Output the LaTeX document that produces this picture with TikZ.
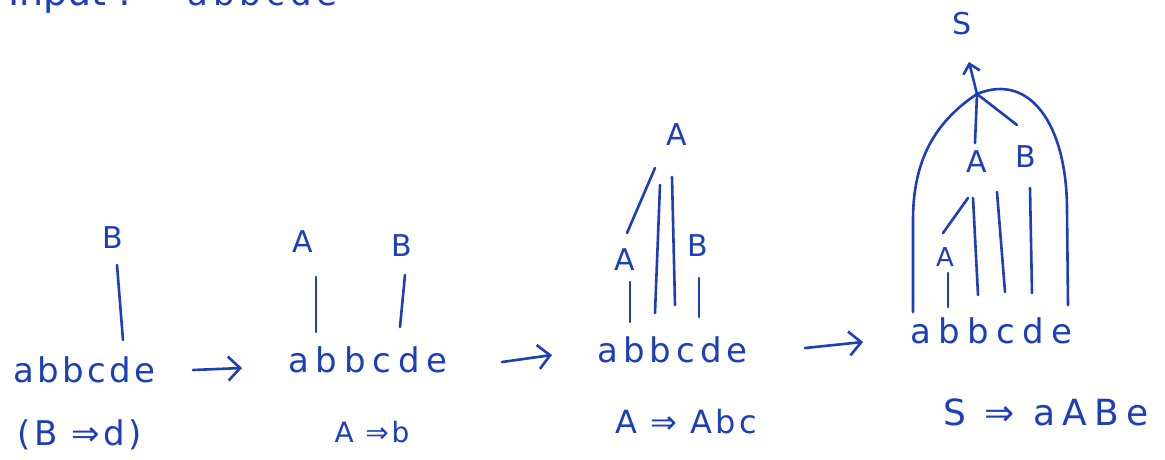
\documentclass[tikz,border=0pt]{standalone}
\usepackage{fontspec}
\setmainfont{DejaVu Sans}
\usetikzlibrary{arrows.meta}
\definecolor{ink}{RGB}{28,62,186}
\begin{document}
\begin{tikzpicture}[x=1pt,y=-1pt,
  every node/.style={text=ink, inner sep=0pt},
  lbl/.style={font=\fontsize{30}{34}\selectfont},
  smalllbl/.style={font=\fontsize{26}{30}\selectfont},
  word/.style={anchor=base west,font={\fontsize{34}{40}\selectfont\addfontfeature{LetterSpace=#1}}},
  rulefont/.style={font={\fontsize{#1}{40}\selectfont\addfontfeature{LetterSpace=10}}},
  edge/.style={draw=ink,line width=2.6pt,line cap=round},
  stagearrow/.style={draw=ink,line width=2.6pt,line cap=round,-{Straight Barb[length=12pt,width=24pt]}},
  rootarrow/.style={draw=ink,line width=2.6pt,line cap=round,-{Straight Barb[length=9pt,width=17pt]}}]
\useasboundingbox (0,0) rectangle (1165,460);
\clip (0,0) rectangle (1165,460);

% clipped heading at the top
\node[anchor=base west,font=\fontsize{38}{40}\selectfont] (inp) at (8,6) {Input :};
\node[word=15] (inw) at (187,6) {abbcde};

% ---------- stage 1 ----------
\node[word=10] (w1) at (13,382) {abbcde};
\node[lbl] (B1) at (113,238) {B};
\node[rulefont=34] (r1) at (80,435) {(B ⇒d)};
\coordinate (b1t) at (117,265); \coordinate (b1b) at (123,340);
\draw[edge] (b1t) -- (b1b);

% ---------- stage 2 ----------
\node[word=20] (w2) at (288,372) {abbcde};
\node[lbl] (A2) at (303,242) {A};
\node[lbl] (B2) at (402,246) {B};
\node[rulefont=28] (r2) at (372,432) {A ⇒b};
\coordinate (a2t) at (316,277); \coordinate (a2b) at (316,332);
\coordinate (b2t) at (405,275); \coordinate (b2b) at (400,327);
\draw[edge] (a2t) -- (a2b);
\draw[edge] (b2t) -- (b2b);

% ---------- stage 3 ----------
\node[word=15] (w3) at (597,362) {abbcde};
\node[lbl] (A3top) at (677,135) {A};
\node[lbl] (A3) at (625,260) {A};
\node[lbl] (B3) at (698,246) {B};
\node[rulefont=32] (r3) at (686,422) {A ⇒ Abc};
\coordinate (s3t) at (655,168); \coordinate (s3b) at (627,233);
\coordinate (p3t) at (660,185); \coordinate (p3b) at (655,313);
\coordinate (c3t) at (672,177); \coordinate (c3b) at (675,305);
\coordinate (a3t) at (630,282); \coordinate (a3b) at (630,322);
\coordinate (d3t) at (699,278); \coordinate (d3b) at (699,317);
\draw[edge] (s3t) -- (s3b);
\draw[edge] (p3t) -- (p3b);
\draw[edge] (c3t) -- (c3b);
\draw[edge] (a3t) -- (a3b);
\draw[edge] (d3t) -- (d3b);

% ---------- stage 4 ----------
\node[word=22] (w4) at (910,343) {abbcde};
\node[lbl] (S4) at (962,24) {S};
\node[lbl] (A4) at (977,162) {A};
\node[lbl] (B4) at (1026,157) {B};
\node[smalllbl] (A4s) at (945,257) {A};
\node[font={\fontsize{36}{40}\selectfont\addfontfeature{LetterSpace=20}}] (r4) at (1046,412) {S ⇒ aABe};
\coordinate (J) at (977,94);
\coordinate (Stip) at (969,62);
\coordinate (jA) at (975,143);
\coordinate (jB) at (1017,125);
\coordinate (s4t) at (968,198); \coordinate (s4b) at (943,233);
\coordinate (a4t) at (948,273); \coordinate (a4b) at (948,307);
\coordinate (p4t) at (973,198); \coordinate (p4b) at (978,295);
\coordinate (c4t) at (997,192); \coordinate (c4b) at (1005,292);
\coordinate (d4t) at (1030,188); \coordinate (d4b) at (1032,293);
\coordinate (la) at (913,312);
\coordinate (le) at (1068,305);
\draw[rootarrow] (J) -- (Stip);
\draw[edge] (J) -- (jA);
\draw[edge] (J) -- (jB);
\draw[edge] (s4t) -- (s4b);
\draw[edge] (a4t) -- (a4b);
\draw[edge] (p4t) -- (p4b);
\draw[edge] (c4t) -- (c4b);
\draw[edge] (d4t) -- (d4b);
\draw[edge] (la) -- (913,220) .. controls (913,160) and (935,122) .. (J);
\draw[edge] (J) .. controls (1030,72) and (1067,125) .. (1067,210) -- (le);

% ---------- arrows between stages ----------
\coordinate (ar1s) at (193,370); \coordinate (ar1e) at (242,368);
\coordinate (ar2s) at (502,362); \coordinate (ar2e) at (552,355);
\coordinate (ar3s) at (805,348); \coordinate (ar3e) at (863,342);
\draw[stagearrow] (ar1s) -- (ar1e);
\draw[stagearrow] (ar2s) -- (ar2e);
\draw[stagearrow] (ar3s) -- (ar3e);
\end{tikzpicture}
\end{document}
